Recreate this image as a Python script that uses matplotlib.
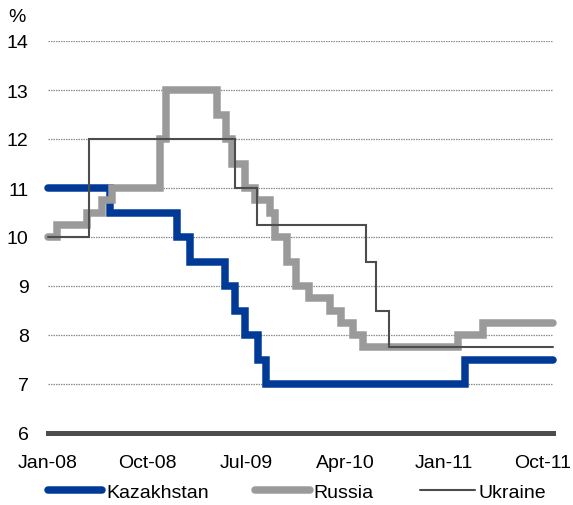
import numpy as np
import matplotlib.pyplot as plt

plt.rcParams['font.family'] = ['Liberation Sans', 'DejaVu Sans']

# ===================================================
# Data: months since Jan-08 where each rate takes effect
# ===================================================
x_end = 45.9  # last date on chart (~late Nov-11)

kz_month = [0, 5.64, 11.73, 12.9, 16.1, 17.0, 17.9, 19.1, 19.8, 37.9]
kz_rate = [11, 10.5, 10, 9.5, 9, 8.5, 8, 7.5, 7, 7.5]

ru_month = [0, 0.8, 3.55, 4.9, 5.8, 10.2, 10.7, 15.4, 16.2, 16.7, 17.9,
            18.8, 20.2, 20.6, 21.7, 22.5, 23.7, 25.6, 26.6, 27.7, 28.6,
            37.3, 39.5]
ru_rate = [10, 10.25, 10.5, 10.75, 11, 12, 13, 12.5, 12, 11.5, 11,
           10.75, 10.5, 10, 9.5, 9, 8.75, 8.5, 8.25, 8, 7.75,
           8, 8.25]

ua_month = [0, 3.7, 17.0, 19.0, 28.9, 29.8, 31.0]
ua_rate = [10, 12, 11, 10.25, 9.5, 8.5, 7.75]

tick_month = [0, 9, 18, 27, 36, 45]
tick_label = ['Jan-08', 'Oct-08', 'Jul-09', 'Apr-10', 'Jan-11', 'Oct-11']

series = [
    ('Kazakhstan', kz_month, kz_rate, '#003A96', 5.4),
    ('Russia', ru_month, ru_rate, '#9A9A9A', 5.4),
    ('Ukraine', ua_month, ua_rate, '#4D4D4D', 1.5),
]

# ===================================================
# Figure
# ===================================================
W, H = 573, 506
fig = plt.figure(figsize=(W / 100, H / 100), dpi=100)
ax = fig.add_axes([48 / W, (H - 434) / H, (553 - 48) / W, (434 - 42) / H])

for y in range(7, 15):
    ax.axhline(y, color='#8C8C8C', linewidth=0.9, linestyle=(0, (1.2, 0.8)), zorder=1)
ax.axhline(6, color='#4D4D4D', linewidth=3.6, zorder=1, clip_on=False)

for name, m, r, col, lw in series:
    xs = np.append(m, x_end)
    ys = np.append(r, r[-1])
    ax.step(xs, ys, where='post', color=col, linewidth=lw, label=name,
            solid_joinstyle='miter', solid_capstyle='round', zorder=3, clip_on=False)

ax.set_xlim(0, x_end)
ax.set_ylim(6, 14)
ax.set_yticks(range(6, 15))
ax.set_xticks(tick_month)
ax.set_xticklabels(tick_label)
ax.tick_params(axis='both', length=0, labelsize=14, colors='black')
ax.tick_params(axis='y', pad=14)
ax.tick_params(axis='x', pad=15)
for s in ax.spines.values():
    s.set_visible(False)

fig.text(8 / W, 1 - 18 / H, '%', fontsize=14, ha='left', va='center')

fig.legend(loc='center', bbox_to_anchor=(297 / W, 1 - 493 / H), ncol=3, frameon=False,
           fontsize=14, handlelength=2.8, handletextpad=0.2, columnspacing=2.4,
           borderaxespad=0)

fig.savefig('out.png', dpi=100)
